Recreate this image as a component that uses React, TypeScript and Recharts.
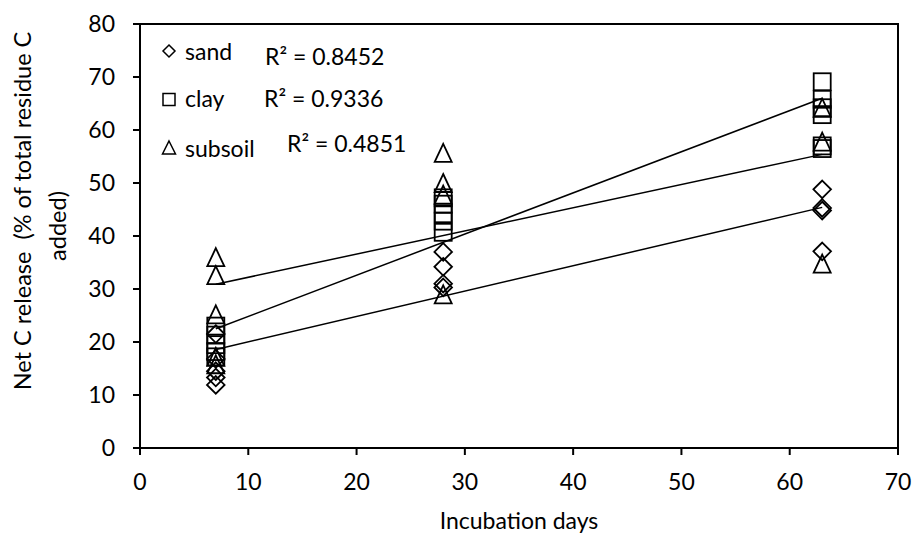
import React from 'react'
import { Legend, ReferenceArea, Scatter, ScatterChart, XAxis, YAxis } from 'recharts'

const sandDays = [7, 7, 7, 7, 7, 28, 28, 28, 28, 63, 63, 63, 63]
const sandRelease = [11.9, 13.3, 14.5, 16.8, 21.5, 37.0, 34.2, 31.0, 30.3, 48.8, 45.3, 44.8, 37.1]

const clayDays = [7, 7, 7, 7, 7, 28, 28, 28, 28, 28, 63, 63, 63, 63, 63, 63]
const clayRelease = [23.0, 21.3, 19.5, 18.2, 17.2, 47.2, 46.0, 44.2, 42.8, 40.7, 69.1, 65.8, 64.2, 62.9, 57.0, 56.5]

const subsoilDays = [7, 7, 7, 7, 7, 28, 28, 28, 28, 63, 63, 63]
const subsoilRelease = [36.0, 32.6, 25.2, 17.2, 15.8, 55.7, 50.0, 47.8, 29.0, 64.2, 57.8, 34.8]

// linear trendline end points
const trendDays = [7, 63]
const sandTrend = [18.6, 45.4]
const clayTrend = [22.5, 66.0]
const subsoilTrend = [30.9, 55.4]

const seriesNames = ['sand', 'clay', 'subsoil']
const rSquared = ['0.8452', '0.9336', '0.4851']

const xTicks = [0, 10, 20, 30, 40, 50, 60, 70]
const yTicks = [0, 10, 20, 30, 40, 50, 60, 70, 80]

const toPoints = (days: number[], values: number[]) =>
  days.map((d, i) => ({ day: d, release: values[i] }))

const sandData = toPoints(sandDays, sandRelease)
const clayData = toPoints(clayDays, clayRelease)
const subsoilData = toPoints(subsoilDays, subsoilRelease)

const FONT = 'Lato, "Open Sans", sans-serif'
const markerStyle = { fill: 'none', stroke: '#000', strokeWidth: 1.8 }

const DiamondMarker = (props: any) => {
  const { cx, cy } = props
  const r = 8.8
  return <path d={`M${cx},${cy - r}L${cx + r},${cy}L${cx},${cy + r}L${cx - r},${cy}Z`} {...markerStyle} />
}

const SquareMarker = (props: any) => {
  const { cx, cy } = props
  const r = 8.5
  return <rect x={cx - r} y={cy - r} width={r * 2} height={r * 2} {...markerStyle} />
}

const TriangleMarker = (props: any) => {
  const { cx, cy } = props
  const h = 9
  const w = 8.5
  return <path d={`M${cx},${cy - h}L${cx + w},${cy + h}L${cx - w},${cy + h}Z`} {...markerStyle} />
}

const NoMarker = () => <g />

const renderLegend = () => {
  const glyph = { fill: 'none', stroke: '#000', strokeWidth: 1.5 }
  const textStyle = { fontFamily: FONT, fontSize: 23, fill: '#000' }
  return (
    <svg width={915} height={533} style={{ position: 'absolute', left: 0, top: 0 }}>
      <path d="M169,45L175,51L169,57L163,51Z" {...glyph} />
      <text x={185} y={60} style={textStyle}>{seriesNames[0]}</text>
      <text x={265} y={65} style={textStyle}>{`R² = ${rSquared[0]}`}</text>

      <rect x={163} y={93.5} width={12} height={12} {...glyph} />
      <text x={185} y={107} style={textStyle}>{seriesNames[1]}</text>
      <text x={264} y={107} style={textStyle}>{`R² = ${rSquared[1]}`}</text>

      <path d="M169,141L175.5,154L162.5,154Z" {...glyph} />
      <text x={185} y={157} style={textStyle}>{seriesNames[2]}</text>
      <text x={287} y={152} style={textStyle}>{`R² = ${rSquared[2]}`}</text>
    </svg>
  )
}

const axisStyle = { stroke: '#000', strokeWidth: 2 }
const tickStyle = { fill: '#000', fontSize: 23, fontFamily: FONT }

export default function App() {
  return (
    <div style={{ position: 'absolute', left: 0, top: 0, width: 915, height: 533, background: '#fff' }}>
      <ScatterChart width={915} height={533} margin={{ top: 24, right: 17, bottom: 40, left: 80 }}>
        <XAxis
          type="number"
          dataKey="day"
          domain={[0, 70]}
          ticks={xTicks}
          axisLine={axisStyle}
          tickLine={axisStyle}
          tickSize={7}
          tickMargin={19}
          tick={tickStyle}
          height={45}
          label={{
            content: () => (
              <text x={519} y={529} textAnchor="middle" style={{ fontFamily: FONT, fontSize: 23, fill: '#000' }}>
                Incubation days
              </text>
            ),
          }}
        />
        <YAxis
          type="number"
          dataKey="release"
          domain={[0, 80]}
          ticks={yTicks}
          axisLine={axisStyle}
          tickLine={axisStyle}
          tickSize={7}
          tickMargin={18}
          tick={tickStyle}
          width={60}
          label={{
            content: () => (
              <g style={{ fontFamily: FONT, fontSize: 23.5, fill: '#000' }}>
                <text x={22} y={211} transform="rotate(-90 22 211)" textAnchor="middle" dominantBaseline="central">
                  {'Net C release \u00A0(% of total residue C'}
                </text>
                <text x={57} y={226} transform="rotate(-90 57 226)" textAnchor="middle" dominantBaseline="central">
                  added)
                </text>
              </g>
            ),
          }}
        />
        <ReferenceArea x1={0} x2={70} y1={0} y2={80} fill="none" stroke="#000" strokeWidth={2} fillOpacity={0} />
        <Scatter data={toPoints(trendDays, sandTrend)} shape={NoMarker} line={{ stroke: '#000', strokeWidth: 1.5 }} isAnimationActive={false} />
        <Scatter data={toPoints(trendDays, clayTrend)} shape={NoMarker} line={{ stroke: '#000', strokeWidth: 1.5 }} isAnimationActive={false} />
        <Scatter data={toPoints(trendDays, subsoilTrend)} shape={NoMarker} line={{ stroke: '#000', strokeWidth: 1.5 }} isAnimationActive={false} />
        <Scatter name="sand" data={sandData} shape={DiamondMarker} isAnimationActive={false} />
        <Scatter name="clay" data={clayData} shape={SquareMarker} isAnimationActive={false} />
        <Scatter name="subsoil" data={subsoilData} shape={TriangleMarker} isAnimationActive={false} />
        <Legend
          layout="horizontal"
          verticalAlign="middle"
          content={renderLegend}
          wrapperStyle={{ left: 0, top: 0, width: 915, height: 533, pointerEvents: 'none' }}
        />
      </ScatterChart>
    </div>
  )
}
